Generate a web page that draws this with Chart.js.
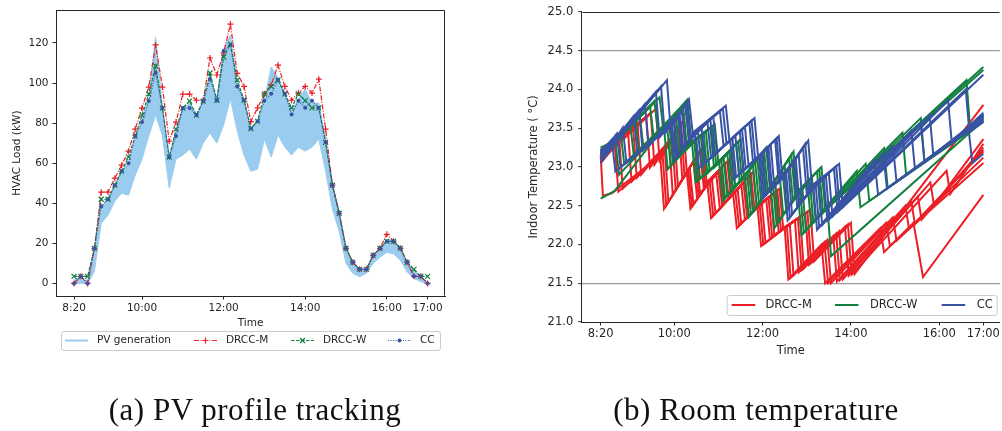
<!DOCTYPE html>
<html>
<head>
<meta charset="utf-8">
<script src="https://cdn.jsdelivr.net/npm/chart.js@4.4.1/dist/chart.umd.min.js"></script>
<style>
  html, body { margin: 0; padding: 0; background: #fff; }
  body { width: 1002px; height: 431px; position: relative; overflow: hidden; }
  .box { position: absolute; top: 0; height: 431px; }
  #boxA { left: 0; width: 500px; }
  #boxB { left: 500px; width: 502px; }
  .cap { position: absolute; top: 394px; width: 400px; font-family: 'Liberation Serif', serif; font-size: 31px; line-height: 1; letter-spacing: 0.5px; color: #111; text-align: center; white-space: nowrap; }
</style>
</head>
<body>
<div class="box" id="boxA"><canvas id="loadChart" width="500" height="431"></canvas></div>
<div class="box" id="boxB"><canvas id="tempChart" width="502" height="431"></canvas></div>
<div class="cap" style="left:55px">(a) PV profile tracking</div>
<div class="cap" style="left:556px">(b) Room temperature</div>
<script>
// (a) HVAC load, one value every 10 minutes
const loadTimes = ['8:20','8:30','8:40','8:50','9:00','9:10','9:20','9:30','9:40','9:50',
  '10:00','10:10','10:20','10:30','10:40','10:50','11:00','11:10','11:20','11:30','11:40','11:50',
  '12:00','12:10','12:20','12:30','12:40','12:50','13:00','13:10','13:20','13:30','13:40','13:50',
  '14:00','14:10','14:20','14:30','14:40','14:50','15:00','15:10','15:20','15:30','15:40','15:50',
  '16:00','16:10','16:20','16:30','16:40','16:50','17:00'];
const drccM = [0,3.5,0,17.5, 45.5,45.5,52.5,59,66,77, 87.5,98,119,98,71,80.5, 94.5,94.5,91.4,91.4,112.5,104,
  115,129.4,104.8,98.3,80.7,87.6, 94.6,99,108.9,98.3,91.4,95, 98.3,95,101.9,77,49,35, 17.5,10.5,7,7,14,17.5,
  24.5,21,17.5,10.5,3.5,3.5, 0];
const drccW = [3.5,3.5,3.5,17.5, 42,42,49,56,63,73.5, 84,94.5,108.5,87.5,63,77, 87.5,91,84,91,105,91.4,
  113,119.4,101.5,91.4,77.3,80.9, 94.6,98.3,101.5,94.6,87.6,94.6, 91.2,87.6,87.6,70.4,49,35, 17.5,10.5,7,7,14,17.5,
  21,21,17.5,10.5,7,3.5, 3.5];
const ccLoad = [0,3.5,0,17.5, 38.5,42,49,56,60,73.5, 80.5,91,105,87.5,63,73.5, 87.5,87.5,84,91,102,91.4,
  116,119,98.3,91.4,77.3,80.9, 91.2,94.6,101.5,94.6,84.3,91.2, 87.6,91.2,87.6,70.4,49,35, 17.5,10.5,7,7,14,17.5,
  21,21,17.5,10.5,3.5,3.5, 0];
// spread of the PV generation scenarios
const pvUpper = [2,3,1,17, 38,42,48,55,60,72, 82,93,123,88,62,76, 87,90,84,91,104,92,
  117,124,100,92,77,80, 92,108,103,95,86,92, 97,90,90,72,50,36, 18,10.5,7,7,14,17.5,
  21.5,21.5,18,10.5,6.5,3.3, 0.5];
const pvLower = [0,0,0,6, 30,34,41,45,44,54, 62,73.7,84,73.7,47.5,62, 64,67,62,70,75,70,
  79,92,76,64,56,57, 72,63,74,68,64,68, 66,68,72,56,37,26, 10,5,3.3,5,10,13,
  15.5,14.7,11.5,5.7,2.5,0.8, 0];
const loadTicks = [0, 20, 40, 60, 80, 100, 120];
const timeTicks = ['8:20', '10:00', '12:00', '14:00', '16:00', '17:00'];

// (b) room temperatures, [minutes after 8:20, degC]
const tempCC = [
  [[0,23.2],[15,23.35],[20,22.94],[95,23.52],[100,23.09],[128,23.44],[133,22.98],[176,23.34],[181,22.84],[215,23.14],[220,22.59],[249,22.89],[254,22.31],[289,22.75],[294,22.19],[372,23.08],[377,22.64],[500,23.48],[505,23.05],[520,23.17]],
  [[0,23.17],[22,23.43],[27,23.0],[97,23.55],[102,23.12],[132,23.47],[137,23.01],[179,23.37],[184,22.87],[217,23.16],[222,22.61],[252,22.93],[257,22.35],[292,22.78],[297,22.22],[384,23.17],[389,22.72],[520,23.6]],
  [[0,23.15],[15,23.28],[30,23.51],[35,23.05],[100,23.59],[105,23.16],[137,23.51],[142,23.05],[183,23.40],[188,22.90],[220,23.19],[225,22.64],[255,22.98],[260,22.39],[296,22.81],[301,22.25],[397,23.27],[402,22.81],[520,23.62]],
  [[0,23.22],[15,23.3],[45,23.66],[50,23.16],[105,23.66],[110,23.23],[145,23.58],[150,23.12],[189,23.46],[194,22.95],[226,23.24],[231,22.69],[262,23.07],[267,22.49],[303,22.86],[308,22.31],[422,23.47],[427,22.98],[520,23.65]],
  [[0,23.16],[15,23.29],[52,23.73],[57,23.21],[107,23.69],[112,23.26],[149,23.61],[154,23.15],[192,23.49],[197,22.98],[228,23.26],[233,22.71],[265,23.11],[270,22.53],[306,22.89],[311,22.33],[435,23.57],[440,23.06],[520,23.66]],
  [[0,23.1],[15,23.27],[60,23.81],[65,23.27],[110,23.73],[115,23.30],[153,23.65],[158,23.19],[196,23.52],[201,23.01],[231,23.29],[236,22.74],[269,23.16],[274,22.58],[310,22.92],[315,22.36],[447,23.67],[452,23.15],[520,23.67]],
  [[0,23.18],[15,23.3],[75,23.97],[80,23.38],[115,23.80],[120,23.37],[162,23.72],[167,23.27],[202,23.57],[207,23.06],[237,23.35],[242,22.80],[275,23.25],[280,22.66],[317,22.98],[322,22.42],[472,23.86],[477,23.32],[520,23.7]],
  [[0,23.12],[15,23.28],[82,24.04],[87,23.43],[117,23.83],[122,23.4],[166,23.75],[171,23.3],[205,23.6],[210,23.09],[239,23.37],[244,22.82],[278,23.3],[283,22.71],[320,23.01],[325,22.45],[496,24.0],[501,23.45],[520,23.58]],
  [[0,23.05],[15,23.25],[90,24.12],[95,23.49],[120,23.87],[125,23.44],[170,23.79],[175,23.33],[209,23.63],[214,23.12],[242,23.40],[247,22.85],[282,23.34],[287,22.76],[324,23.04],[329,22.48],[520,24.19]]
];
const tempW = [
  [[0,22.59],[19,22.69],[86,23.52],[91,22.97],[124,23.32],[129,22.80],[161,23.06],[166,22.56],[196,22.89],[201,22.35],[231,22.74],[236,22.21],[268,22.66],[273,22.12],[308,22.50],[313,21.85],[520,23.6]],
  [[0,23.2],[15,23.28],[20,23.33],[25,22.9],[90,23.56],[95,23.01],[127,23.34],[132,22.83],[164,23.09],[169,22.6],[199,22.93],[204,22.39],[234,22.79],[239,22.26],[271,22.7],[276,22.15],[348,22.95],[353,22.48],[520,23.6]],
  [[0,23.25],[15,23.32],[27,23.45],[32,23.04],[93,23.59],[98,23.05],[130,23.36],[135,22.85],[167,23.12],[172,22.63],[202,22.96],[207,22.42],[237,22.83],[242,22.30],[274,22.73],[279,22.18],[360,23.04],[365,22.56],[520,23.58]],
  [[0,23.2],[15,23.3],[40,23.56],[45,23.15],[99,23.66],[104,23.11],[136,23.41],[141,22.89],[172,23.18],[177,22.68],[207,23.02],[212,22.49],[243,22.92],[248,22.39],[281,22.80],[286,22.25],[385,23.24],[390,22.73],[520,23.63]],
  [[0,23.18],[15,23.29],[47,23.62],[52,23.2],[102,23.7],[107,23.15],[140,23.44],[145,22.92],[175,23.21],[180,22.71],[210,23.06],[215,22.53],[247,22.97],[252,22.45],[284,22.83],[289,22.29],[410,23.44],[415,22.9],[520,23.64]],
  [[0,23.15],[15,23.28],[53,23.67],[58,23.26],[105,23.73],[110,23.18],[143,23.46],[148,22.95],[178,23.24],[183,22.74],[213,23.10],[218,22.56],[250,23.02],[255,22.50],[287,22.86],[292,22.32],[435,23.63],[440,23.07],[520,23.66]],
  [[0,23.22],[15,23.3],[67,23.79],[72,23.38],[112,23.80],[117,23.26],[149,23.51],[154,22.99],[184,23.30],[189,22.80],[219,23.18],[224,22.64],[256,23.11],[261,22.59],[294,22.94],[299,22.39],[497,24.12],[502,23.49],[520,23.68]],
  [[0,23.16],[15,23.28],[73,23.85],[78,23.44],[115,23.84],[120,23.29],[152,23.53],[157,23.02],[187,23.33],[192,22.83],[222,23.22],[227,22.68],[259,23.16],[264,22.64],[297,22.97],[302,22.42],[520,24.25]],
  [[0,23.1],[15,23.27],[80,23.90],[85,23.49],[118,23.87],[123,23.32],[155,23.55],[160,23.04],[190,23.36],[195,22.86],[225,23.25],[230,22.71],[262,23.20],[267,22.68],[300,23.00],[305,22.45],[520,24.29]]
];
const tempM = [
  [[0,23.15],[3,22.63],[15,22.66],[81,23.14],[86,22.46],[117,22.93],[122,22.46],[145,22.78],[150,22.34],[180,22.65],[185,22.21],[213,22.49],[218,21.98],[250,22.22],[255,21.55],[300,22.0],[305,21.5],[380,22.21],[385,21.9],[425,22.28],[438,21.58],[520,22.64]],
  [[0,23.18],[15,23.26],[19,23.3],[24,22.68],[84,23.18],[89,22.5],[119,22.96],[124,22.49],[148,22.81],[153,22.37],[183,22.68],[188,22.24],[216,22.51],[221,22.0],[253,22.24],[258,21.57],[304,22.03],[309,21.5],[388,22.28],[393,21.98],[520,23.05]],
  [[0,23.25],[15,23.3],[25,23.38],[30,22.72],[87,23.23],[92,22.55],[121,22.99],[126,22.52],[151,22.85],[156,22.40],[186,22.72],[191,22.27],[219,22.53],[224,22.02],[257,22.26],[262,21.60],[308,22.06],[313,21.5],[397,22.35],[402,22.05],[520,23.12]],
  [[0,23.2],[15,23.3],[37,23.47],[42,22.81],[93,23.32],[98,22.64],[126,23.07],[131,22.60],[157,22.91],[162,22.46],[191,22.77],[196,22.32],[225,22.58],[230,22.07],[264,22.31],[269,21.64],[316,22.11],[321,21.52],[414,22.5],[419,22.2],[520,23.2]],
  [[0,23.15],[15,23.28],[44,23.52],[49,22.86],[97,23.37],[102,22.7],[128,23.1],[133,22.63],[160,22.94],[165,22.5],[194,22.8],[199,22.35],[228,22.61],[233,22.1],[268,22.34],[273,21.67],[320,22.14],[325,21.54],[422,22.56],[427,22.26],[520,23.22]],
  [[0,23.1],[15,23.25],[50,23.57],[55,22.90],[100,23.42],[105,22.75],[130,23.13],[135,22.66],[163,22.97],[168,22.53],[196,22.82],[201,22.38],[231,22.63],[236,22.12],[271,22.36],[276,21.69],[324,22.17],[329,21.55],[431,22.62],[436,22.32],[520,23.25]],
  [[0,23.22],[15,23.3],[62,23.65],[67,22.99],[106,23.51],[111,22.84],[135,23.21],[140,22.74],[169,23.04],[174,22.59],[202,22.89],[207,22.44],[237,22.67],[242,22.16],[278,22.40],[283,21.74],[332,22.23],[337,21.6],[448,22.8],[453,22.5],[520,23.36]],
  [[0,23.14],[15,23.26],[68,23.7],[73,23.03],[109,23.55],[114,22.88],[137,23.24],[142,22.77],[172,23.07],[177,22.62],[204,22.91],[209,22.46],[240,22.7],[245,22.18],[281,22.42],[286,21.76],[336,22.26],[341,21.61],[470,22.95],[475,22.65],[520,23.3]],
  [[0,23.05],[15,23.22],[75,23.75],[80,23.08],[112,23.60],[117,22.93],[139,23.27],[144,22.80],[175,23.10],[180,22.65],[207,22.94],[212,22.49],[243,22.72],[248,22.21],[285,22.45],[290,21.78],[340,22.28],[345,21.62],[520,23.8]]
];
const tempTicks = [21.0, 21.5, 22.0, 22.5, 23.0, 23.5, 24.0, 24.5, 25.0];
const comfortLimits = [21.5, 24.5];

const red = '#ec1f26';
const green = '#148040';
const blue = '#3953a4';
const pvColor = '#99ccee';
const ink = '#262626';

Chart.defaults.font.family = '"DejaVu Sans", sans-serif';
Chart.defaults.color = ink;

function toMin(s) {
    let p = s.split(':');
    return p[0] * 60 + +p[1] - 500;
}

function timeLabel(v) {
    let m = v + 500;
    return Math.floor(m / 60) + ':' + String(m % 60).padStart(2, '0');
}

function loadPoints(values) {
    return values.map((v, i) => ({ x: toMin(loadTimes[i]), y: v }));
}

// box around the plot area
const frame = {
    id: 'frame',
    afterDatasetsDraw(chart, args, o) {
        let a = chart.chartArea;
        let c = chart.ctx;
        let l = Math.round(a.left) + 0.5, r = Math.round(a.right) - 0.5;
        let t = Math.round(a.top) + 0.5, b = Math.round(a.bottom) - 0.5;
        c.save();
        c.strokeStyle = ink;
        c.lineWidth = 1;
        c.beginPath();
        c.moveTo(l, t);
        c.lineTo(r, t);
        if (o.right) {
            c.lineTo(r, b);
        }
        c.stroke();
        c.restore();
    }
};

// legend in a rounded frame, matplotlib style
const boxLegend = {
    id: 'boxLegend',
    afterDatasetsDraw(chart, args, o) {
        if (!o.items) return;
        let c = chart.ctx;
        c.save();
        c.beginPath();
        c.roundRect(o.left + 0.5, o.top + 0.5, o.width, o.height, 2.5);
        c.fillStyle = 'rgba(255,255,255,0.85)';
        c.fill();
        c.strokeStyle = '#cccccc';
        c.lineWidth = 1;
        c.stroke();
        c.font = o.font;
        c.textBaseline = 'middle';
        o.items.forEach(it => {
            c.strokeStyle = it.color;
            c.lineWidth = it.lineWidth;
            c.setLineDash(it.dash || []);
            c.beginPath();
            c.moveTo(it.x, o.mid);
            c.lineTo(it.x + o.lineLen, o.mid);
            c.stroke();
            c.setLineDash([]);
            let mx = it.x + o.lineLen / 2;
            c.lineWidth = 1.2;
            if (it.marker === 'plus') {
                c.beginPath();
                c.moveTo(mx - 3, o.mid); c.lineTo(mx + 3, o.mid);
                c.moveTo(mx, o.mid - 3); c.lineTo(mx, o.mid + 3);
                c.stroke();
            } else if (it.marker === 'x') {
                c.beginPath();
                c.moveTo(mx - 2.5, o.mid - 2.5); c.lineTo(mx + 2.5, o.mid + 2.5);
                c.moveTo(mx - 2.5, o.mid + 2.5); c.lineTo(mx + 2.5, o.mid - 2.5);
                c.stroke();
            } else if (it.marker === 'dot') {
                c.fillStyle = it.color;
                c.beginPath();
                c.arc(mx, o.mid, 2, 0, Math.PI * 2);
                c.fill();
            }
            c.fillStyle = ink;
            c.fillText(it.label, it.textX, o.mid);
        });
        c.restore();
    }
};

// (a) PV profile tracking
new Chart(document.getElementById('loadChart'), {
    type: 'line',
    data: {
        datasets: [
            { label: 'PV generation', data: loadPoints(pvUpper), borderColor: pvColor, backgroundColor: pvColor, borderWidth: 1, pointRadius: 0, fill: '+1', order: 10 },
            { label: 'PV low', data: loadPoints(pvLower), borderColor: pvColor, borderWidth: 1, pointRadius: 0, fill: false, order: 11 },
            { label: 'DRCC-M', data: loadPoints(drccM), borderColor: red, borderWidth: 1.2, borderDash: [5, 1.5, 1, 1.5],
              pointStyle: 'cross', pointRadius: 3, pointBorderColor: red, pointBorderWidth: 1.2, fill: false, order: 3 },
            { label: 'DRCC-W', data: loadPoints(drccW), borderColor: green, borderWidth: 1.2, borderDash: [3.5, 1.5],
              pointStyle: 'crossRot', pointRadius: 3.5, pointBorderColor: green, pointBorderWidth: 1.2, fill: false, order: 2 },
            { label: 'CC', data: loadPoints(ccLoad), borderColor: blue, borderWidth: 1.2, borderDash: [1, 1.5],
              pointStyle: 'circle', pointRadius: 2, pointBorderWidth: 0, pointBackgroundColor: blue, fill: false, order: 1 }
        ]
    },
    options: {
        responsive: false,
        animation: false,
        events: [],
        layout: { padding: { left: 0, top: 6, right: 55, bottom: 101.7 } },
        elements: { line: { tension: 0 } },
        scales: {
            x: {
                type: 'linear', min: -26.5, max: 545.6,
                afterBuildTicks: s => { s.ticks = timeTicks.map(t => ({ value: toMin(t) })); },
                afterFit: s => { s.height = 33.3; },
                ticks: { callback: v => timeLabel(v), autoSkip: false, maxRotation: 0, padding: 2, color: ink, font: { size: 10.5 } },
                grid: { drawOnChartArea: false, tickLength: 3.5, tickColor: ink },
                border: { color: ink },
                title: { display: true, text: 'Time', color: ink, font: { size: 10.5 }, padding: 0 }
            },
            y: {
                min: -6.3, max: 136.3,
                afterBuildTicks: s => { s.ticks = loadTicks.map(v => ({ value: v })); },
                afterFit: s => { s.width = 56; },
                ticks: { padding: 4, color: ink, font: { size: 10.5 } },
                grid: { drawOnChartArea: false, tickLength: 3.5, tickColor: ink },
                border: { color: ink },
                title: { display: true, text: 'HVAC Load (kW)', color: ink, font: { size: 10.5 }, padding: { top: 11.2, bottom: 0 } }
            }
        },
        plugins: {
            legend: { display: false },
            tooltip: { enabled: false },
            frame: { right: true },
            boxLegend: {
                left: 61, top: 331, width: 379, height: 19, mid: 340.5, lineLen: 23, font: '10.5px "DejaVu Sans"',
                items: [
                    { label: 'PV generation', color: pvColor, lineWidth: 2, x: 65, textX: 97 },
                    { label: 'DRCC-M', color: red, lineWidth: 1.2, dash: [5, 1.5, 1, 1.5], marker: 'plus', x: 194, textX: 226 },
                    { label: 'DRCC-W', color: green, lineWidth: 1.2, dash: [3.5, 1.5], marker: 'x', x: 291, textX: 323 },
                    { label: 'CC', color: blue, lineWidth: 1.2, dash: [1, 1.5], marker: 'dot', x: 388, textX: 420 }
                ]
            }
        }
    },
    plugins: [frame, boxLegend]
});

// (b) room temperature
let tempSets = [];
tempCC.forEach(tr => tempSets.push({ data: tr.map(p => ({ x: p[0], y: p[1] })), borderColor: blue, order: 0 }));
tempW.forEach(tr => tempSets.push({ data: tr.map(p => ({ x: p[0], y: p[1] })), borderColor: green, order: 1 }));
tempM.forEach(tr => tempSets.push({ data: tr.map(p => ({ x: p[0], y: p[1] })), borderColor: red, order: 2 }));

new Chart(document.getElementById('tempChart'), {
    type: 'line',
    data: { datasets: tempSets },
    options: {
        responsive: false,
        animation: false,
        events: [],
        layout: { padding: { left: 0, top: 7.7, right: 1.5, bottom: 73.1 } },
        elements: { line: { tension: 0, borderWidth: 2, fill: false }, point: { radius: 0 } },
        scales: {
            x: {
                type: 'linear', min: -25.8, max: 542.5,
                afterBuildTicks: s => { s.ticks = timeTicks.map(t => ({ value: toMin(t) })); },
                afterFit: s => { s.height = 35.9; },
                ticks: { callback: v => timeLabel(v), autoSkip: false, maxRotation: 0, padding: 2, color: ink, font: { size: 11.5 } },
                grid: { drawOnChartArea: false, tickLength: 3.5, tickColor: ink },
                border: { color: ink },
                title: { display: true, text: 'Time', color: ink, font: { size: 11.5 }, padding: 0 }
            },
            y: {
                min: 21, max: 25,
                afterBuildTicks: s => { s.ticks = tempTicks.map(v => ({ value: v })); },
                afterFit: s => { s.width = 81.7; },
                ticks: { callback: v => v.toFixed(1), padding: 5, color: ink, font: { size: 11.5 } },
                grid: {
                    color: ctx => comfortLimits.includes(ctx.tick.value) ? '#999999' : 'rgba(0,0,0,0)',
                    lineWidth: 1.3, tickLength: 3.5, tickColor: ink, tickWidth: 1
                },
                border: { color: ink },
                title: { display: true, text: 'Indoor Temperature ( °C)', color: ink, font: { size: 11.5 }, padding: { top: 27.1, bottom: 0 } }
            }
        },
        plugins: {
            legend: { display: false },
            tooltip: { enabled: false },
            frame: { right: false },
            boxLegend: {
                left: 226.7, top: 295, width: 270, height: 20, mid: 305, lineLen: 23.5, font: '11.5px "DejaVu Sans"',
                items: [
                    { label: 'DRCC-M', color: red, lineWidth: 2, x: 231.7, textX: 265.5 },
                    { label: 'DRCC-W', color: green, lineWidth: 2, x: 335, textX: 370 },
                    { label: 'CC', color: blue, lineWidth: 2, x: 441.7, textX: 476.7 }
                ]
            }
        }
    },
    plugins: [frame, boxLegend]
});
</script>
</body>
</html>
